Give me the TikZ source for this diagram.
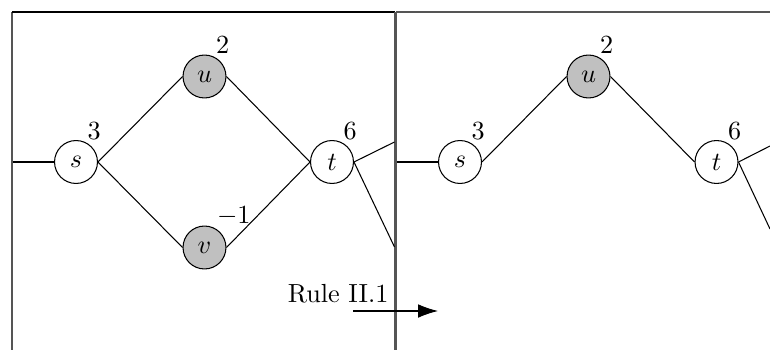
\documentclass[tikz,border=0pt]{standalone}
\usetikzlibrary{arrows.meta,calc}
\definecolor{framegray}{HTML}{555555}
\definecolor{nodegray}{HTML}{C0C0C0}
\tikzset{
  vtx/.style={circle,draw=black,line width=0.4pt,minimum size=16.4pt,inner sep=0pt,fill=white},
  gvtx/.style={vtx,fill=nodegray},
  wlabel/.style={anchor=south west,inner sep=0pt},
  edge/.style={line width=0.4pt},
  frameline/.style={line width=0.8pt,draw=framegray},
}
\begin{document}
\begin{tikzpicture}[x=0.382pt,y=-0.382pt]
\useasboundingbox (0,0) rectangle (770,350);
% frames
\draw[frameline] (12,350) -- (12,12);
\draw[line width=0.6pt] (12,12) -- (395,12);
\draw[line width=1.2pt,draw=framegray] (395.5,12) -- (395.5,350);
\draw[line width=0.6pt,draw=framegray] (396,12) -- (770,12);
% left panel
\node[vtx]  (s1) at (76,162) {$s$};
\node[gvtx] (u1) at (204.5,76.5) {$u$};
\node[gvtx] (v1) at (204.5,247.5) {$v$};
\node[vtx]  (t1) at (332,162) {$t$};
\node[wlabel] (ls1) at ($(s1.center)+(11,-22)$) {$3$};
\node[wlabel] (lu1) at ($(u1.center)+(11,-22)$) {$2$};
\node[wlabel] (lv1) at ($(v1.center)+(12,-21)$) {$-1$};
\node[wlabel] (lt1) at ($(t1.center)+(11,-22)$) {$6$};
\coordinate (in1) at (13,162);
\coordinate (o1a) at (394.5,142);
\coordinate (o1b) at (394.5,247);
\draw[edge] (in1) -- (s1.west);
\draw[edge] (s1.east) -- (u1.west);
\draw[edge] (s1.east) -- (v1.west);
\draw[edge] (u1.east) -- (t1.west);
\draw[edge] (v1.east) -- (t1.west);
\draw[edge] (t1.east) -- (o1a);
\draw[edge] (t1.east) -- (o1b);
% right panel
\node[vtx]  (s2) at (460,162) {$s$};
\node[gvtx] (u2) at (588.5,76.5) {$u$};
\node[vtx]  (t2) at (716.5,162) {$t$};
\node[wlabel] (ls2) at ($(s2.center)+(11,-22)$) {$3$};
\node[wlabel] (lu2) at ($(u2.center)+(11,-22)$) {$2$};
\node[wlabel] (lt2) at ($(t2.center)+(11,-22)$) {$6$};
\coordinate (in2) at (397,162);
\coordinate (o2a) at (770,146);
\coordinate (o2b) at (770,229);
\draw[edge] (in2) -- (s2.west);
\draw[edge] (s2.east) -- (u2.west);
\draw[edge] (u2.east) -- (t2.west);
\draw[edge] (t2.east) -- (o2a);
\draw[edge] (t2.east) -- (o2b);
% rule arrow
\node[anchor=base east,inner sep=0pt] (rule) at (389,302) {Rule II.1};
\coordinate (ra) at (353,311);
\coordinate (rb) at (438,311);
\draw[edge,-{Latex[length=7.6pt,width=5.2pt]}] (ra) -- (rb);
\end{tikzpicture}
\end{document}
